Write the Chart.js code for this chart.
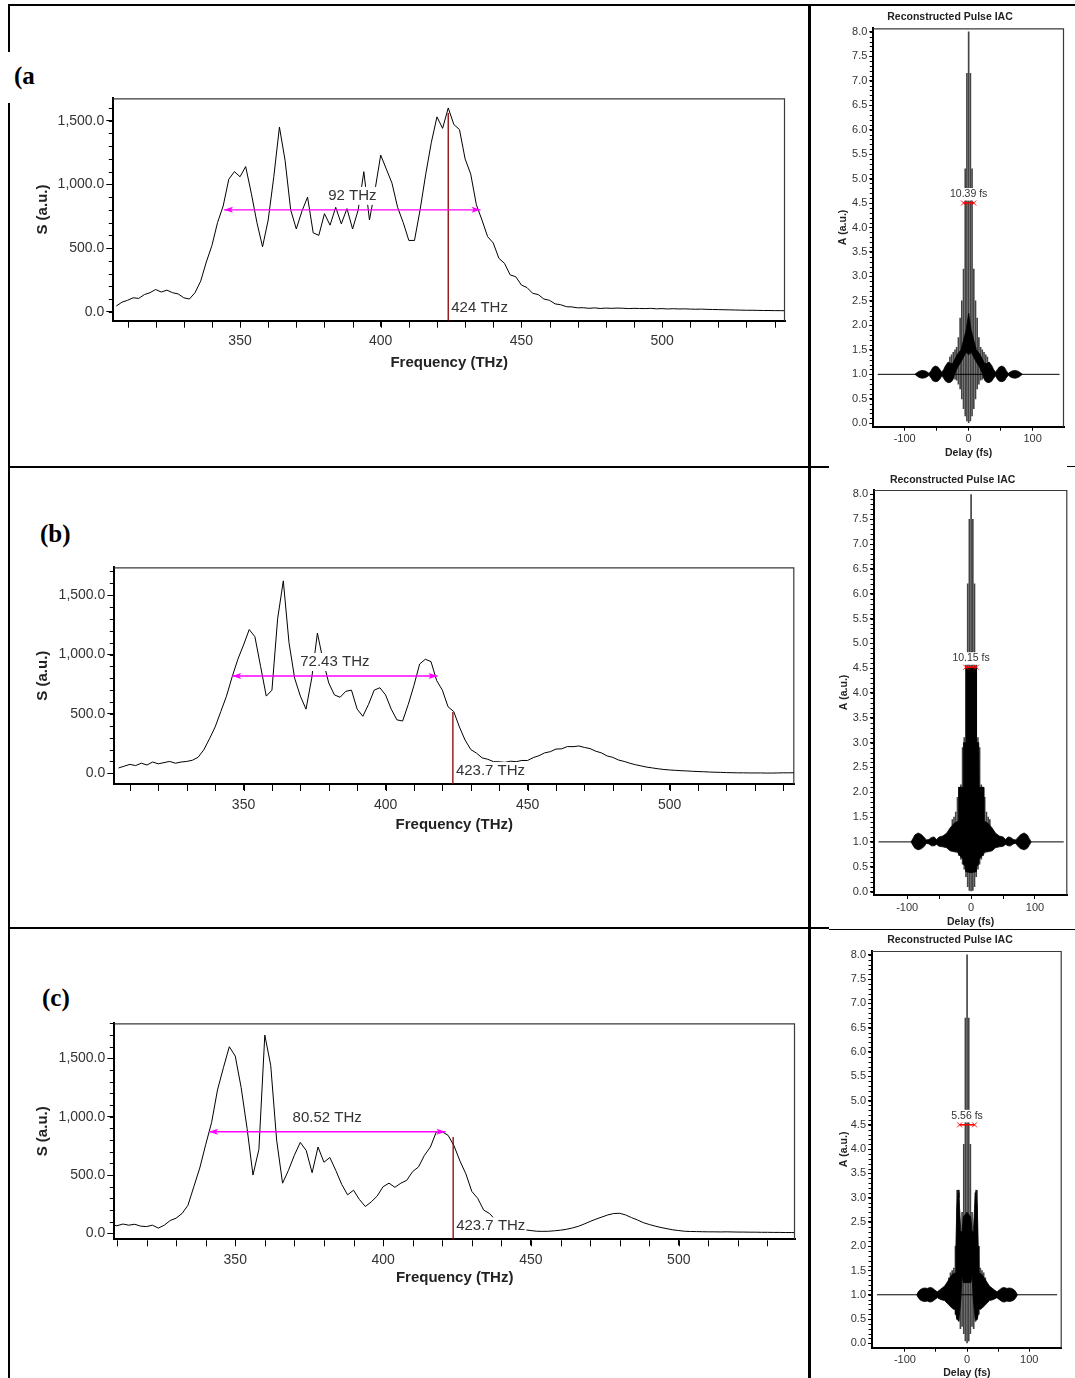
<!DOCTYPE html>
<html>
<head>
<meta charset="utf-8">
<script src="https://cdn.jsdelivr.net/npm/chart.js@4.4.0/dist/chart.umd.min.js"></script>
<style>
  body { margin: 0; background: #fff; }
  #page { position: relative; width: 1075px; height: 1378px; overflow: hidden; background: #fff; }
  .ln { position: absolute; background: #000; }
  canvas { position: absolute; }
  .tag { position: absolute; font-family: 'Liberation Serif', 'Times New Roman', serif; font-weight: bold;
         font-size: 25px; line-height: 25px; color: #000; }
</style>
</head>
<body>
<div id="page">
  <!-- table borders -->
  <div class="ln" style="left:8px;top:4px;width:1067px;height:2px"></div>
  <div class="ln" style="left:8px;top:4px;width:2px;height:48px"></div>
  <div class="ln" style="left:8px;top:103px;width:2px;height:1275px"></div>
  <div class="ln" style="left:808px;top:4px;width:3px;height:1374px"></div>
  <div class="ln" style="left:8px;top:466px;width:821px;height:2px"></div>
  <div class="ln" style="left:1067px;top:466px;width:8px;height:1px"></div>
  <div class="ln" style="left:8px;top:927px;width:821px;height:2px"></div>
  <div class="ln" style="left:829px;top:929px;width:246px;height:1px"></div>

  <div class="tag" style="left:14px;top:63px">(a</div>
  <div class="tag" style="left:40px;top:521px">(b)</div>
  <div class="tag" style="left:42px;top:985px">(c)</div>

  <canvas id="specA" width="780" height="300" style="left:20px;top:88px"></canvas>
  <canvas id="specB" width="790" height="300" style="left:20px;top:555px"></canvas>
  <canvas id="specC" width="790" height="300" style="left:20px;top:1010px"></canvas>
  <canvas id="iacA" width="246" height="458" style="left:826px;top:6px"></canvas>
  <canvas id="iacB" width="246" height="462" style="left:826px;top:468px"></canvas>
  <canvas id="iacC" width="246" height="452" style="left:826px;top:930px"></canvas>
</div>
<script>
Chart.defaults.font.family = "'Liberation Sans', Arial, sans-serif";
Chart.defaults.color = '#333';

// tick values
const freqTicks = [350, 400, 450, 500];
const sTicks = [0, 500, 1000, 1500];
const delayTicks = [-100, -50, 0, 50, 100];
const aTicks = [0, 0.5, 1, 1.5, 2, 2.5, 3, 3.5, 4, 4.5, 5, 5.5, 6, 6.5, 7, 7.5, 8];

// spectra, sampled every 2 THz from 306 THz
const freqStart = 306, freqStep = 2;
const specA = [
  45, 75, 90, 110, 105, 135, 150, 175, 155, 170,
  150, 140, 110, 100, 150, 240, 390, 520, 700, 830,
  1040, 1100, 1060, 1140, 930, 700, 510, 720, 1060, 1450,
  1190, 800, 650, 790, 900, 620, 600, 770, 680, 820,
  690, 810, 650, 800, 1100, 720, 960, 1230, 1120, 1010,
  820, 700, 560, 560, 800, 1080, 1330, 1530, 1440, 1600,
  1470, 1430, 1200, 1080, 840, 720, 590, 540, 420, 380,
  290, 275, 210, 190, 145, 135, 100, 90, 62, 55,
  40, 38, 31, 32, 27, 31, 26, 29, 27, 29,
  28, 25, 27, 26, 25, 27, 23, 25, 22, 24,
  22, 23, 21, 20, 21, 19, 18, 17, 16, 15,
  14, 13, 12, 12, 11, 10, 10, 9, 9, 8
];
const specB = [
  45, 60, 75, 65, 85, 70, 95, 80, 90, 100,
  85, 95, 100, 110, 135, 197, 290, 390, 520, 650,
  813, 960, 1080, 1210, 1150, 900, 650, 700, 1300, 1620,
  1100, 800, 650, 540, 800, 1180, 950, 760, 660, 640,
  690, 700, 540, 480, 580, 700, 720, 660, 540, 450,
  440, 580, 740, 920, 960, 940, 780, 700, 560, 520,
  390, 280, 200, 170, 130, 118, 98, 97, 92, 102,
  98, 108, 108, 132, 148, 172, 182, 204, 206, 225,
  224, 230, 218, 208, 186, 172, 146, 134, 112, 100,
  85, 72, 62, 52, 45, 38, 32, 28, 25, 22,
  20, 17, 15, 13, 11, 9, 8, 6, 5, 4,
  4, 3, 3, 3, 2, 2, 3, 4, 4, 5
];
const specC = [
  70, 75, 65, 80, 70, 78, 62, 58, 70, 45,
  70, 110, 130, 170, 240, 400, 560, 760, 950, 1230,
  1420, 1600, 1520, 1250, 900, 500, 720, 1700, 1440, 800,
  430, 540, 670, 780, 710, 520, 740, 610, 650, 540,
  420, 330, 370, 290, 230, 270, 320, 400, 430, 395,
  430, 455, 530, 570, 670, 740, 870, 870, 840, 750,
  620, 510, 360, 300, 200, 170, 115, 85, 48, 40,
  32, 30, 24, 18, 17, 18, 22, 27, 35, 46,
  60, 80, 102, 122, 140, 158, 170, 172, 158, 135,
  115, 92, 76, 62, 50, 40, 30, 24, 18, 16,
  15, 14, 13, 13, 12, 13, 12, 11, 11, 10,
  10, 9, 9, 8, 8, 7, 7, 6, 6, 6
];

// IAC traces (symmetric, positive delays only, fs)
const fringeDelay = [0, 2.7, 5.3, 8.0, 10.7, 13.3, 16.0, 18.7, 21.3, 24.0, 26.7, 29.3];
const fringeHiA = [8.0, 7.15, 5.2, 3.15, 2.5, 2.15, 1.75, 1.55, 1.5, 1.45, 1.4, 1.35];
const fringeLoA = [0.0, 0.05, 0.15, 0.3, 0.5, 0.7, 0.8, 0.88, 0.9, 0.92, 0.92, 0.95];
const fringeHiB = [8.0, 7.5, 6.2, 4.6, 3.1, 2.9, 2.15, 2.1, 1.9, 1.6, 1.5, 1.45];
const fringeLoB = [0.0, 0.02, 0.1, 0.3, 0.45, 0.55, 0.65, 0.72, 0.78, 0.8, 0.82, 0.85];
const fringeHiC = [8.0, 6.7, 4.1, 2.7, 2.3, 3.1, 3.15, 2.0, 1.55, 1.5, 1.45, 1.35];
const fringeLoC = [0.0, 0.05, 0.2, 0.35, 0.3, 0.45, 0.5, 0.6, 0.7, 0.75, 0.8, 0.85];

const envDelayA = [0, 4, 8, 12, 17, 22, 25, 28, 32, 36, 39, 42, 45, 48, 52, 56, 59, 62, 65, 68, 73, 78, 81, 84];
const envLoA = [1.4, 1.45, 1.35, 1.25, 1.15, 1.0, 0.88, 0.84, 0.83, 0.86, 0.92, 0.97, 0.9, 0.86, 0.85, 0.87, 0.93, 0.98, 0.95, 0.93, 0.92, 0.94, 0.97, 1.0];
const envHiA = [2.25, 1.9, 1.7, 1.5, 1.42, 1.3, 1.22, 1.22, 1.25, 1.18, 1.1, 1.04, 1.1, 1.15, 1.17, 1.14, 1.07, 1.02, 1.05, 1.07, 1.08, 1.06, 1.03, 1.0];
const envDelayB = [0, 8, 8.5, 12, 12.5, 19.5, 20, 26, 33, 38, 44, 50, 54, 58, 62, 66, 70, 74, 78, 83, 88, 91, 94];
const envLoB = [0.38, 0.4, 0.5, 0.55, 0.65, 0.75, 0.8, 0.8, 0.82, 0.88, 0.9, 0.91, 0.95, 0.92, 0.92, 0.96, 0.97, 0.9, 0.86, 0.84, 0.87, 0.93, 1.0];
const envHiB = [4.5, 4.5, 3.0, 3.0, 2.1, 2.1, 1.42, 1.38, 1.28, 1.18, 1.12, 1.1, 1.05, 1.1, 1.09, 1.05, 1.04, 1.1, 1.15, 1.18, 1.14, 1.07, 1.0];
const envDelayC = [0, 6, 8, 10, 13, 14.5, 16.5, 18, 19, 24, 30, 36, 42, 48, 52, 56, 60, 64, 68, 72, 76, 79, 81];
const envLoC = [1.25, 1.25, 1.4, 0.9, 0.5, 0.47, 0.5, 0.6, 0.7, 0.72, 0.8, 0.88, 0.9, 0.94, 0.9, 0.86, 0.85, 0.87, 0.86, 0.87, 0.9, 0.95, 1.0];
const envHiC = [2.7, 2.6, 2.3, 2.3, 3.0, 3.16, 2.8, 2.0, 1.45, 1.42, 1.3, 1.18, 1.12, 1.06, 1.1, 1.14, 1.15, 1.13, 1.14, 1.13, 1.1, 1.05, 1.0];

// annotations
const marks = {
  specA: { kind: 'spec', centerF: 424, centerTop: 1560, centerText: '424 THz', fwhmFrom: 344.3, fwhmTo: 435.5, fwhmY: 800, fwhmText: '92 THz' },
  specB: { kind: 'spec', centerF: 423.7, centerTop: 517, centerText: '423.7 THz', fwhmFrom: 346.0, fwhmTo: 418.3, fwhmY: 819, fwhmText: '72.43 THz' },
  specC: { kind: 'spec', centerF: 423.7, centerTop: 826, centerText: '423.7 THz', fwhmFrom: 341.1, fwhmTo: 421.1, fwhmY: 871, fwhmText: '80.52 THz' },
  iacA: { kind: 'iac', half: 8.0, y: 4.5, text: '10.39 fs' },
  iacB: { kind: 'iac', half: 8.3, y: 4.52, text: '10.15 fs' },
  iacC: { kind: 'iac', half: 12, y: 4.5, text: '5.56 fs' }
};

function boxText(ctx, text, x, y, center, size) {
  ctx.font = size + "px 'Liberation Sans', Arial, sans-serif";
  const w = ctx.measureText(text).width;
  const left = center ? x - w / 2 : x;
  ctx.fillStyle = '#fff';
  ctx.fillRect(left - 1, y - size * 0.6, w + 2, size * 1.2);
  ctx.fillStyle = '#333';
  ctx.textAlign = 'left';
  ctx.textBaseline = 'middle';
  ctx.fillText(text, left, y);
}

const overlay = {
  id: 'overlay',
  afterDraw(chart) {
    const m = marks[chart.canvas.id];
    const ctx = chart.ctx, a = chart.chartArea, xs = chart.scales.x, ys = chart.scales.y;
    const spec = m.kind === 'spec';
    ctx.save();
    ctx.strokeStyle = '#3a3a3a';
    ctx.lineWidth = 1.2;
    ctx.beginPath();
    ctx.moveTo(a.left, a.top + 0.5);
    ctx.lineTo(a.right - 0.5, a.top + 0.5);
    ctx.lineTo(a.right - 0.5, a.bottom);
    ctx.stroke();

    // minor ticks
    const step = spec ? 100 : 0.1, len = spec ? 3.5 : 2.5;
    ctx.strokeStyle = '#000';
    ctx.lineWidth = 1;
    for (let v = Math.ceil(ys.min / step) * step; v <= ys.max; v += step) {
      const y = Math.round(ys.getPixelForValue(v)) + 0.5;
      ctx.beginPath();
      ctx.moveTo(a.left - 1 - len, y);
      ctx.lineTo(a.left - 1, y);
      ctx.stroke();
    }
    if (spec) {
      for (let f = Math.ceil(xs.min / 10) * 10; f <= xs.max; f += 10) {
        const x = Math.round(xs.getPixelForValue(f)) + 0.5;
        ctx.beginPath();
        ctx.moveTo(x, a.bottom + 1);
        ctx.lineTo(x, a.bottom + 7);
        ctx.stroke();
      }
    }

    if (spec) {
      const cx = xs.getPixelForValue(m.centerF);
      ctx.strokeStyle = '#8b0000';
      ctx.lineWidth = 1.3;
      ctx.beginPath();
      ctx.moveTo(cx, a.bottom);
      ctx.lineTo(cx, ys.getPixelForValue(m.centerTop));
      ctx.stroke();
      boxText(ctx, m.centerText, cx + 3, a.bottom - 13, false, 15);

      const x1 = xs.getPixelForValue(m.fwhmFrom), x2 = xs.getPixelForValue(m.fwhmTo);
      const fy = ys.getPixelForValue(m.fwhmY);
      ctx.strokeStyle = '#ff00ff';
      ctx.fillStyle = '#ff00ff';
      ctx.lineWidth = 1.3;
      ctx.beginPath();
      ctx.moveTo(x1, fy);
      ctx.lineTo(x2, fy);
      ctx.stroke();
      [[x1, 1], [x2, -1]].forEach(([tx, d]) => {
        ctx.beginPath();
        ctx.moveTo(tx, fy);
        ctx.lineTo(tx + d * 9, fy - 3);
        ctx.lineTo(tx + d * 7, fy);
        ctx.lineTo(tx + d * 9, fy + 3);
        ctx.closePath();
        ctx.fill();
      });
      boxText(ctx, m.fwhmText, (x1 + x2) / 2, fy - 14, true, 15);
    } else {
      const x1 = xs.getPixelForValue(-m.half), x2 = xs.getPixelForValue(m.half);
      const my = ys.getPixelForValue(m.y);
      boxText(ctx, m.text, xs.getPixelForValue(0), my - 8.7, true, 10.5);
      ctx.strokeStyle = '#ff0000';
      ctx.lineWidth = 1.6;
      ctx.beginPath();
      ctx.moveTo(x1, my);
      ctx.lineTo(x2, my);
      ctx.stroke();
      ctx.lineWidth = 0.9;
      [x1, x2].forEach(tx => {
        ctx.beginPath();
        ctx.moveTo(tx - 2.5, my - 2.5);
        ctx.lineTo(tx + 2.5, my + 2.5);
        ctx.moveTo(tx - 2.5, my + 2.5);
        ctx.lineTo(tx + 2.5, my - 2.5);
        ctx.stroke();
      });
    }
    ctx.restore();
  }
};

function spectrumChart(id, values, g) {
  const pts = values.map((v, i) => ({ x: freqStart + i * freqStep, y: v }));
  return new Chart(document.getElementById(id), {
    type: 'line',
    data: { datasets: [{ data: pts, borderColor: '#000', borderWidth: 1, pointRadius: 0, tension: 0 }] },
    options: {
      responsive: false, animation: false, events: [],
      layout: { padding: { top: g.padTop, right: g.padRight, left: 0, bottom: 0 } },
      plugins: { legend: { display: false }, tooltip: { enabled: false } },
      scales: {
        x: {
          type: 'linear', min: g.xMin, max: g.xMax,
          afterBuildTicks: s => { s.ticks = freqTicks.map(v => ({ value: v })); },
          afterFit: s => { s.height = g.xAxisH; },
          ticks: { autoSkip: false, maxRotation: 0, padding: 6.5, font: { size: 14 }, color: '#333' },
          grid: { drawOnChartArea: false, tickLength: 6, color: '#000' },
          border: { width: 2, color: '#000' },
          title: { display: true, text: 'Frequency (THz)', color: '#222', font: { size: 15, weight: 'bold' },
                   padding: { top: 0, bottom: g.xTitlePad } }
        },
        y: {
          min: g.yMin, max: g.yMax,
          afterBuildTicks: s => { s.ticks = sTicks.map(v => ({ value: v })); },
          afterFit: s => { s.width = g.yAxisW; },
          ticks: { padding: 2, font: { size: 14 }, color: '#333',
                   callback: v => v.toLocaleString('en-US', { minimumFractionDigits: 1, maximumFractionDigits: 1 }) },
          grid: { drawOnChartArea: false, tickLength: 7, color: '#000' },
          border: { width: 2, color: '#000' },
          title: { display: true, text: 'S (a.u.)', color: '#222', font: { size: 15, weight: 'bold' },
                   padding: { top: 13.7, bottom: 0 } }
        }
      }
    },
    plugins: [overlay]
  });
}

function mirror(delays, vals) {
  const out = [];
  for (let i = delays.length - 1; i > 0; i--) out.push({ x: -delays[i], y: vals[i] });
  for (let i = 0; i < delays.length; i++) out.push({ x: delays[i], y: vals[i] });
  return out;
}

function iacChart(id, d, g) {
  const pairs = d.lo.map((lo, i) => [lo, d.hi[i]]);
  return new Chart(document.getElementById(id), {
    type: 'line',
    data: {
      datasets: [
        { data: mirror(d.envDelay, d.envLo), borderColor: '#000', borderWidth: 0.8, pointRadius: 0, fill: false },
        { data: mirror(d.envDelay, d.envHi), borderColor: '#000', borderWidth: 0.8, pointRadius: 0,
          fill: '-1', backgroundColor: '#000' },
        { data: [{ x: -g.base, y: 1 }, { x: g.base, y: 1 }], borderColor: '#000', borderWidth: 1, pointRadius: 0 },
        { type: 'bar', data: mirror(fringeDelay, pairs), backgroundColor: '#444', barThickness: 1, grouped: false }
      ]
    },
    options: {
      responsive: false, animation: false, events: [],
      layout: { padding: { top: 0, right: g.padRight, left: g.padLeft, bottom: 0 } },
      plugins: {
        legend: { display: false }, tooltip: { enabled: false },
        title: { display: true, text: 'Reconstructed Pulse IAC', color: '#222', font: { size: 10.5, weight: 'bold' },
                 padding: { top: g.titleTop, bottom: g.titleBottom } }
      },
      scales: {
        x: {
          type: 'linear', min: g.xMin, max: g.xMax, offset: false,
          afterBuildTicks: s => { s.ticks = delayTicks.map(v => ({ value: v })); },
          afterFit: s => { s.height = g.xAxisH; },
          ticks: { autoSkip: false, maxRotation: 0, padding: 2, font: { size: 11 }, color: '#333',
                   callback: v => (v % 100 === 0 ? String(v) : '') },
          grid: { offset: false, drawOnChartArea: false, tickLength: 4, color: '#000' },
          border: { width: 2, color: '#000' },
          title: { display: true, text: 'Delay (fs)', color: '#222', font: { size: 10.5, weight: 'bold' },
                   padding: { top: 0, bottom: g.xTitlePad } }
        },
        y: {
          min: g.yMin, max: g.yMax,
          afterBuildTicks: s => { s.ticks = aTicks.map(v => ({ value: v })); },
          afterFit: s => { s.width = g.yAxisW; },
          ticks: { padding: 2, font: { size: 11 }, color: '#333', callback: v => v.toFixed(1) },
          grid: { drawOnChartArea: false, tickLength: 4, color: '#000' },
          border: { width: 2, color: '#000' },
          title: { display: true, text: 'A (a.u.)', color: '#222', font: { size: 10.5, weight: 'bold' },
                   padding: { top: g.yTitlePad, bottom: 0 } }
        }
      }
    },
    plugins: [overlay]
  });
}

spectrumChart('specA', specA, { xMin: 304.95, xMax: 543.7, yMin: -70, yMax: 1675,
  padTop: 9.7, padRight: 15, yAxisW: 93.3, xAxisH: 67.3, xTitlePad: 15.7 });
spectrumChart('specB', specB, { xMin: 304.5, xMax: 543.9, yMin: -90, yMax: 1734,
  padTop: 12.3, padRight: 15.7, yAxisW: 94.3, xAxisH: 71, xTitlePad: 21 });
spectrumChart('specC', specC, { xMin: 309.1, xMax: 539.3, yMin: -51, yMax: 1801,
  padTop: 13.3, padRight: 15, yAxisW: 94.3, xAxisH: 70.7, xTitlePad: 22.7 });

iacChart('iacA', { lo: fringeLoA, hi: fringeHiA, envDelay: envDelayA, envLo: envLoA, envHi: envHiA },
  { base: 142, xMin: -149, xMax: 149, yMin: -0.07, yMax: 8.07, padLeft: 10, padRight: 8, yAxisW: 37.3,
    xAxisH: 37.3, titleTop: 4.4, titleBottom: 5.3, xTitlePad: 4.4, yTitlePad: 1 });
iacChart('iacB', { lo: fringeLoB, hi: fringeHiB, envDelay: envDelayB, envLo: envLoB, envHi: envHiB },
  { base: 145, xMin: -152, xMax: 150.6, yMin: -0.07, yMax: 8.09, padLeft: 12, padRight: 4.7, yAxisW: 36,
    xAxisH: 35, titleTop: 5.7, titleBottom: 3.7, xTitlePad: 2, yTitlePad: 0 });
iacChart('iacC', { lo: fringeLoC, hi: fringeHiC, envDelay: envDelayC, envLo: envLoC, envHi: envHiC },
  { base: 145, xMin: -153, xMax: 152.3, yMin: -0.09, yMax: 8.08, padLeft: 12.3, padRight: 10.3, yAxisW: 33.7,
    xAxisH: 34.3, titleTop: 3.7, titleBottom: 4.7, xTitlePad: 2.4, yTitlePad: 0 });
</script>
</body>
</html>
